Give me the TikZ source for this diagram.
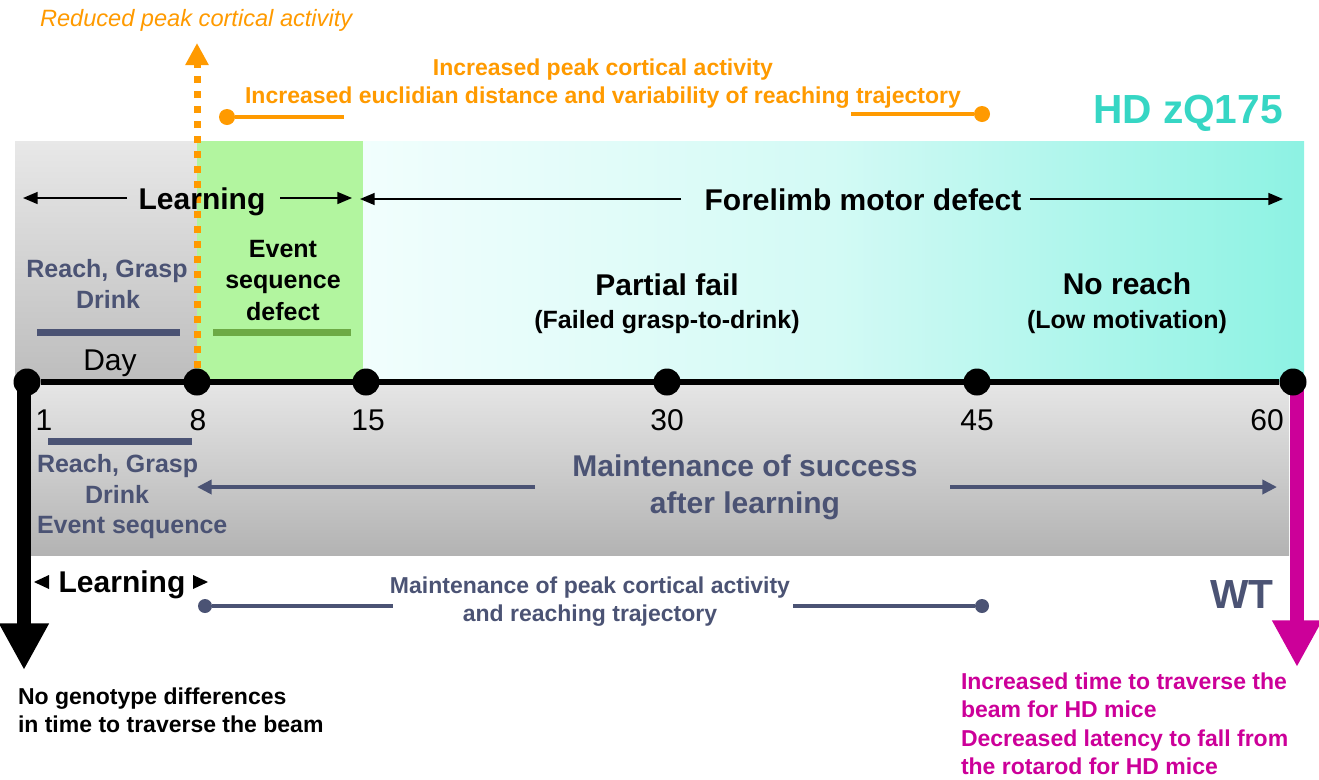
\documentclass[tikz,border=0pt]{standalone}
\usepackage{fontspec}
\setmainfont{Liberation Sans}
\usetikzlibrary{arrows.meta}

\definecolor{ornge}{HTML}{FF9A00}
\definecolor{wtslate}{HTML}{4B5374}
\definecolor{hdteal}{HTML}{36D6C4}
\definecolor{mgnta}{HTML}{CC0099}
\definecolor{grnbox}{HTML}{B2F59F}
\definecolor{grnline}{HTML}{6DAA45}
\definecolor{grayTopA}{HTML}{E8E8E8}
\definecolor{grayTopB}{HTML}{BDBDBD}
\definecolor{grayBotA}{HTML}{E6E6E6}
\definecolor{grayBotB}{HTML}{B3B3B3}
\definecolor{cyanL}{HTML}{F1FEFD}
\definecolor{cyanM}{HTML}{D3FAF5}
\definecolor{cyanR}{HTML}{8DF2E3}

\pgfdeclarelayer{back}
\pgfdeclarelayer{mid}
\pgfsetlayers{back,mid,main}

\tikzset{
  txt/.style={inner sep=0pt, outer sep=0pt},
  sA/.style={txt, font=\fontsize{17.25}{20}\selectfont\bfseries},
  sB/.style={txt, font=\fontsize{18.75}{22}\selectfont\bfseries},
  sC/.style={txt, font=\fontsize{22.5}{26}\selectfont\bfseries},
  sCr/.style={txt, font=\fontsize{22.5}{26}\selectfont},
  sBig/.style={txt, font=\fontsize{30.5}{34}\selectfont\bfseries},
  tdot/.style={circle, fill=black, inner sep=0pt, minimum size=20.25pt},
  odot/.style={circle, fill=ornge, inner sep=0pt, minimum size=12pt},
  sdot/.style={circle, fill=wtslate, inner sep=0pt, minimum size=10.5pt},
  thinarr/.style={draw=black, line width=1.1pt, -{Triangle[width=9pt,length=11pt]}},
  slatearr/.style={draw=wtslate, line width=3pt, -{Triangle[width=10.5pt,length=11pt]}},
  bar/.style={line width=5.25pt},
  oline/.style={draw=ornge, line width=3pt},
  sline/.style={draw=wtslate, line width=3pt},
}

\begin{document}
\begin{tikzpicture}[x=0.75pt,y=-0.75pt]
\useasboundingbox (0,0) rectangle (1319,779);

% background bands
\begin{pgfonlayer}{back}
  \shade[top color=grayTopA, bottom color=grayTopB] (15,141) rectangle (197,382);
  \fill[grnbox] (197,141) rectangle (363,382);
  \shade[left color=cyanL, right color=cyanR, middle color=cyanM] (363,141) rectangle (1304,382);
  \shade[top color=grayBotA, bottom color=grayBotB] (31,382) rectangle (1289,555);
\end{pgfonlayer}

% timeline day markers
\node[tdot] (d1) at (27,382) {};
\node[tdot] (d8) at (197,382) {};
\node[tdot] (d15) at (366,382) {};
\node[tdot] (d30) at (667,382) {};
\node[tdot] (d45) at (977,382) {};
\node[tdot] (d60) at (1293,382) {};

% free ends of connectors
\coordinate (oTip) at (197,43);
\coordinate (blkTip) at (24,670);
\coordinate (mgTip) at (1297,667);
\coordinate (lTs1) at (127,198);
\coordinate (lTe1) at (23,198);
\coordinate (lTs2) at (280,198);
\coordinate (lTe2) at (352,198);
\coordinate (fTs1) at (681,199);
\coordinate (fTe1) at (360,199);
\coordinate (fTs2) at (1030,199);
\coordinate (fTe2) at (1283,199);
\coordinate (mTs1) at (535,487);
\coordinate (mTe1) at (197,487);
\coordinate (mTs2) at (950,487);
\coordinate (mTe2) at (1277,487);
\coordinate (oL1) at (344,117);
\coordinate (oR1) at (851,114);
\coordinate (sL1) at (393,606);
\coordinate (sR1) at (793,606);
\coordinate (barTa) at (37,332);
\coordinate (barTb) at (180,332);
\coordinate (barGa) at (213,332);
\coordinate (barGb) at (351,332);
\coordinate (barBa) at (48,441);
\coordinate (barBb) at (192,441);

\node[odot] (oD1) at (227,117) {};
\node[odot] (oD2) at (982,114) {};
\node[sdot] (sD1) at (205,606) {};
\node[sdot] (sD2) at (982,606) {};

\begin{pgfonlayer}{mid}
  % reduced activity marker at day 8
  \draw[ornge, line width=5.25pt, dash pattern=on 5.25pt off 6pt,
        -{Triangle[width=16.5pt,length=16.5pt]}] (d8.north) -- (oTip);
  % behavioural test arrows
  \draw[black, line width=10.5pt, -{Triangle[width=35pt,length=35pt]}] (d1.center -| blkTip) -- (blkTip);
  \draw[mgnta, line width=11pt, -{Triangle[width=35pt,length=35pt]}] (d60.center -| mgTip) -- (mgTip);
  % main axis
  \draw[black, line width=4.5pt] (d1) -- (d60);
  % phase bars
  \draw[bar, wtslate] (barTa) -- (barTb);
  \draw[bar, grnline] (barGa) -- (barGb);
  \draw[bar, wtslate] (barBa) -- (barBb);
  % phase arrows
  \draw[thinarr] (lTs1) -- (lTe1);
  \draw[thinarr] (lTs2) -- (lTe2);
  \draw[thinarr] (fTs1) -- (fTe1);
  \draw[thinarr] (fTs2) -- (fTe2);
  \draw[slatearr] (mTs1) -- (mTe1);
  \draw[slatearr] (mTs2) -- (mTe2);
  % cortical activity spans
  \draw[oline] (oD1) -- (oL1);
  \draw[oline] (oR1) -- (oD2);
  \draw[sline] (sD1) -- (sL1);
  \draw[sline] (sR1) -- (sD2);
  % small learning markers
  \fill[black] (34,582) -- (49,575) -- (49,589) -- cycle;
  \fill[black] (208,582) -- (193,575) -- (193,589) -- cycle;
\end{pgfonlayer}

% top annotations
\node[txt, anchor=base west, text=ornge, font=\fontsize{17.7}{20}\selectfont\itshape] (redAct) at (40,26.5) {Reduced peak cortical activity};
\node[sA, anchor=base, text=ornge] (incAct) at (603,75) {Increased peak cortical activity};
\node[sA, anchor=base, text=ornge] (incDist) at (603,103) {Increased euclidian distance and variability of reaching trajectory};
\node[sBig, anchor=base west, text=hdteal] (hd) at (1093,123) {HD zQ175};

% upper band labels
\node[sC, anchor=base] (learnT) at (202,209) {Learning};
\node[sC, anchor=base] (forelimb) at (863,210) {Forelimb motor defect};
\node[sB, anchor=base, text=wtslate] (rgT1) at (107,277) {Reach, Grasp};
\node[sB, anchor=base, text=wtslate] (rgT2) at (108,308) {Drink};
\node[sCr, anchor=base] (day) at (110,370) {Day};
\node[sB, anchor=base] (esd1) at (283,257) {Event};
\node[sB, anchor=base] (esd2) at (283,288) {sequence};
\node[sB, anchor=base] (esd3) at (283,320) {defect};
\node[sC, anchor=base] (pfail) at (667,295) {Partial fail};
\node[sB, anchor=base] (pfailsub) at (667,328) {(Failed grasp-to-drink)};
\node[sC, anchor=base] (noreach) at (1127,294) {No reach};
\node[sB, anchor=base] (noreachsub) at (1127,328) {(Low motivation)};

% day numbers
\node[sCr, anchor=base] (n1) at (44,430) {1};
\node[sCr, anchor=base] (n8) at (198,430) {8};
\node[sCr, anchor=base] (n15) at (368,430) {15};
\node[sCr, anchor=base] (n30) at (667,430) {30};
\node[sCr, anchor=base] (n45) at (977,430) {45};
\node[sCr, anchor=base] (n60) at (1267,430) {60};

% lower band labels
\node[sB, anchor=base west, text=wtslate] (rgB1) at (37,472) {Reach, Grasp};
\node[sB, anchor=base, text=wtslate] (rgB2) at (117,503) {Drink};
\node[sB, anchor=base west, text=wtslate] (rgB3) at (37,533) {Event sequence};
\node[sC, anchor=base, text=wtslate] (mos1) at (745,476) {Maintenance of success};
\node[sC, anchor=base, text=wtslate] (mos2) at (745,513) {after learning};

% wild-type annotations
\node[sC, anchor=base] (learnB) at (122,592) {Learning};
\node[sA, anchor=base, text=wtslate] (mpk1) at (590,593) {Maintenance of peak cortical activity};
\node[sA, anchor=base, text=wtslate] (mpk2) at (590,621) {and reaching trajectory};
\node[sBig, anchor=base, text=wtslate] (wt) at (1242,608) {WT};

% test outcomes
\node[sA, anchor=base west] (ng1) at (18,704) {No genotype differences};
\node[sA, anchor=base west] (ng2) at (18,732) {in time to traverse the beam};
\node[sA, anchor=base west, text=mgnta] (mg1) at (961,689) {Increased time to traverse the};
\node[sA, anchor=base west, text=mgnta] (mg2) at (961,717) {beam for HD mice};
\node[sA, anchor=base west, text=mgnta] (mg3) at (961,746) {Decreased latency to fall from};
\node[sA, anchor=base west, text=mgnta] (mg4) at (961,774) {the rotarod for HD mice};
\end{tikzpicture}
\end{document}
